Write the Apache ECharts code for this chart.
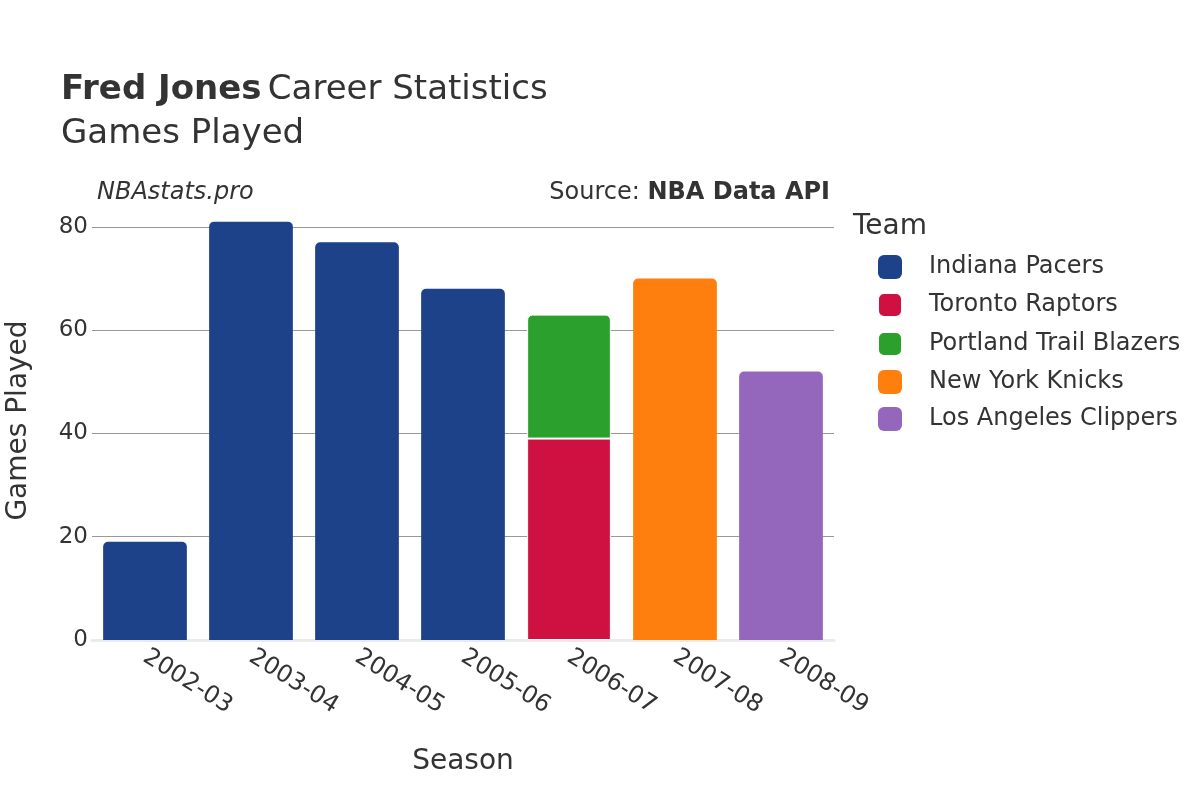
<!DOCTYPE html>
<html>
<head>
<meta charset="utf-8">
<script src="https://cdn.jsdelivr.net/npm/echarts@6/dist/echarts.min.js"></script>
<style>
  html, body { margin: 0; padding: 0; background: #fff; }
  #main { width: 1200px; height: 800px; }
</style>
</head>
<body>
<div id="main"></div>
<script>
const seasons = ['2002-03', '2003-04', '2004-05', '2005-06', '2006-07', '2007-08', '2008-09'];
const teams = ['Indiana Pacers', 'Toronto Raptors', 'Portland Trail Blazers', 'New York Knicks', 'Los Angeles Clippers'];
const teamColors = ['#1d428a', '#ce1141', '#2ca02c', '#ff7f0e', '#9467bd'];
const indiana = [19, 81, 77, 68, null, null, null];
const toronto = [null, null, null, null, 39, null, null];
const portland = [null, null, null, null, 24, null, null];
const knicks = [null, null, null, null, null, 70, null];
const clippers = [null, null, null, null, null, null, 52];
const yTicks = [0, 20, 40, 60, 80];

const seriesData = [indiana, toronto, portland, knicks, clippers];
const font = 'DejaVu Sans';
const txt = '#333';

const e = echarts.init(document.getElementById('main'));
const option = {
    textStyle: { fontFamily: font, color: txt },
    title: [
        {
            text: '{b|Fred Jones} {n|Career Statistics}\n{n|Games Played}',
            left: 61, top: 68, padding: 0,
            textStyle: {
                rich: {
                    b: { fontFamily: font, fontSize: 34, fontWeight: 'bold', color: txt, lineHeight: 44 },
                    n: { fontFamily: font, fontSize: 34, fontWeight: 'normal', color: txt, lineHeight: 44 }
                }
            }
        },
        {
            text: 'NBAstats.pro',
            left: 97, top: 181, padding: 0,
            textStyle: { fontFamily: font, fontSize: 24, fontStyle: 'italic', fontWeight: 'normal', color: txt }
        },
        {
            text: '{n|Source: }{b|NBA Data API}',
            right: 370, top: 181, padding: 0,
            textStyle: {
                rich: {
                    n: { fontFamily: font, fontSize: 24, fontWeight: 'normal', color: txt },
                    b: { fontFamily: font, fontSize: 24, fontWeight: 'bold', color: txt }
                }
            }
        },
        {
            text: 'Team',
            left: 853, top: 213, padding: 0,
            textStyle: { fontFamily: font, fontSize: 28, fontWeight: 'normal', color: txt }
        }
    ],
    legend: {
        data: teams,
        orient: 'vertical',
        left: 877, top: 255, padding: 0,
        itemWidth: 24, itemHeight: 24, itemGap: 13,
        icon: 'roundRect',
        textStyle: { fontFamily: font, fontSize: 24, color: txt, lineHeight: 24, padding: [0, 0, 0, 22] },
        selectedMode: false
    },
    grid: { left: 92, right: 366, top: 201, bottom: 160, containLabel: false, outerBoundsMode: 'none' },
    xAxis: {
        type: 'category',
        data: seasons,
        name: 'Season',
        nameLocation: 'middle',
        nameGap: 108,
        nameTextStyle: { fontFamily: font, fontSize: 28, color: txt },
        axisLine: { show: true, lineStyle: { color: '#ebebeb', width: 3 } },
        axisTick: { show: false },
        axisLabel: { rotate: -32, fontFamily: font, fontSize: 24, color: txt, margin: 15 }
    },
    yAxis: {
        type: 'value',
        min: 0, max: 85, interval: 20,
        name: 'Games Played',
        nameLocation: 'middle',
        nameGap: 59,
        nameTextStyle: { fontFamily: font, fontSize: 28, color: txt },
        axisLine: { show: false },
        axisTick: { show: false },
        splitLine: { showMaxLine: false, lineStyle: { color: '#999', width: 1 } },
        axisLabel: {
            fontFamily: font, fontSize: 23, color: txt, margin: 4,
            formatter: v => yTicks.includes(v) ? String(v) : ''
        }
    },
    series: teams.map((t, i) => ({
        name: t,
        type: 'bar',
        stack: 'gp',
        data: seriesData[i],
        barWidth: '79%',
        itemStyle: {
            color: teamColors[i],
            borderRadius: i === 1 ? 0 : [5, 5, 0, 0],
            borderColor: '#fff',
            borderWidth: i === 1 || i === 2 ? 1 : 0
        }
    }))
};
e.setOption(option);
</script>
</body>
</html>
